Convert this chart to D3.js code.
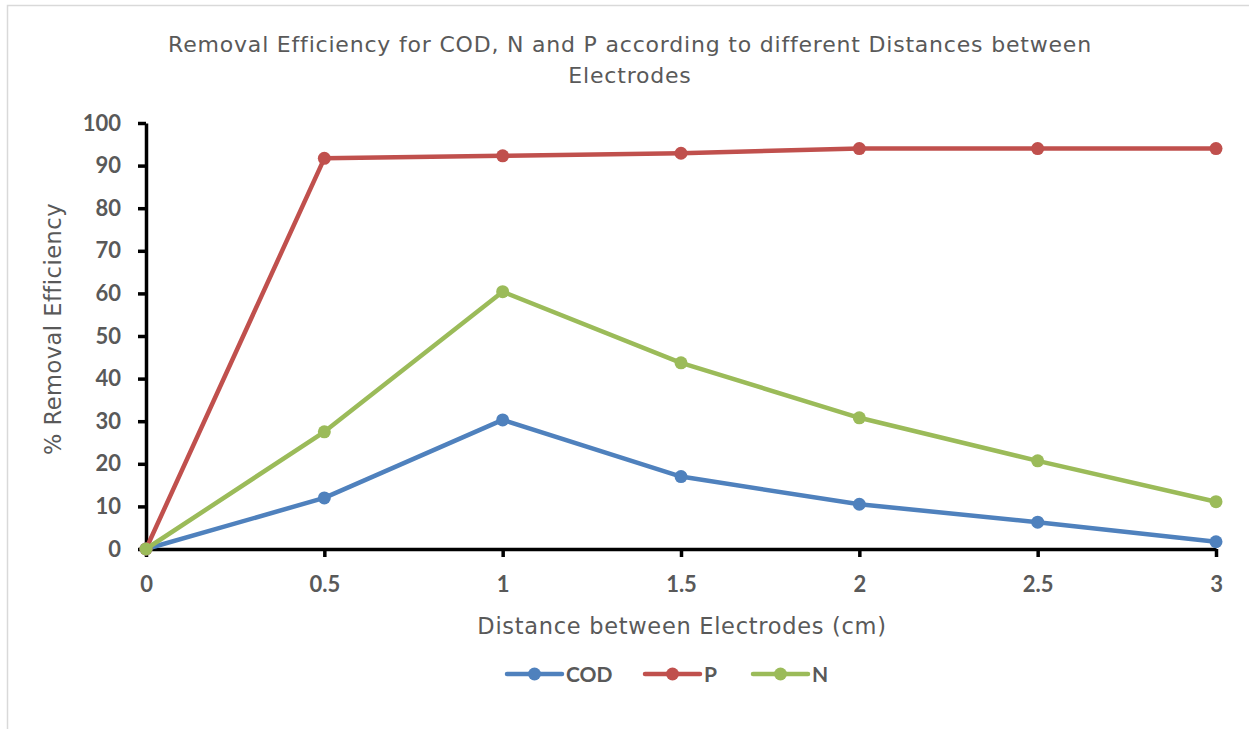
<!DOCTYPE html>
<html>
<head>
<meta charset="utf-8">
<script src="https://cdn.jsdelivr.net/npm/d3@7"></script>
<style>
  html, body { margin: 0; padding: 0; background: #fff; overflow: hidden; }
  svg { display: block; }
</style>
</head>
<body>
<svg id="chart" width="1249" height="729"></svg>
<script>
// Electrode spacing (cm) and removal efficiency (%) for each parameter
const distances = [0, 0.5, 1, 1.5, 2, 2.5, 3];
const codValues = [0, 12.0, 30.3, 17.0, 10.5, 6.3, 1.7];
const pValues   = [0, 91.7, 92.3, 92.9, 94.0, 94.0, 94.0];
const nValues   = [0, 27.5, 60.4, 43.7, 30.8, 20.7, 11.1];
const seriesNames = ["COD", "P", "N"];
const seriesColors = ["#4f81bd", "#c0504d", "#9bbb59"];
const yTicks = [0, 10, 20, 30, 40, 50, 60, 70, 80, 90, 100];
const xTicks = [0, 0.5, 1, 1.5, 2, 2.5, 3];

const series = [codValues, pValues, nValues].map((vals, i) => ({
  name: seriesNames[i],
  color: seriesColors[i],
  points: vals.map((v, j) => ({ x: distances[j], y: v }))
}));

const svg = d3.select("#chart");
const textColor = "#595959";
const titleFont = "'DejaVu Sans', sans-serif";
const tickFont = "Lato, 'Liberation Sans', sans-serif";

// chart frame (right and bottom edges run off the page)
svg.append("rect")
  .attr("x", 7.5).attr("y", 5.5)
  .attr("width", 1300).attr("height", 760)
  .attr("fill", "none").attr("stroke", "#d9d9d9").attr("stroke-width", 1.5);

const plot = { left: 146, right: 1216, top: 123, bottom: 549 };

const x = d3.scaleLinear().domain([0, 3]).range([plot.left, plot.right]);
const y = d3.scaleLinear().domain([0, 100]).range([plot.bottom, plot.top]);

// title
const title = svg.append("text")
  .attr("text-anchor", "middle")
  .attr("font-family", titleFont)
  .attr("font-size", 22)
  .attr("letter-spacing", 0.8)
  .attr("fill", textColor);
title.append("tspan").attr("x", 630).attr("y", 52)
  .text("Removal Efficiency for COD, N and P according to different Distances between");
title.append("tspan").attr("x", 630).attr("y", 83).text("Electrodes");

// y axis
const yAxis = svg.append("g")
  .attr("transform", `translate(${plot.left},0)`)
  .call(d3.axisLeft(y).tickValues(yTicks).tickSize(8).tickSizeOuter(0).tickPadding(17));
// x axis
const xAxis = svg.append("g")
  .attr("transform", `translate(0,${plot.bottom})`)
  .call(d3.axisBottom(x).tickValues(xTicks).tickSize(8).tickSizeOuter(0).tickPadding(19)
    .tickFormat(d3.format("")));

[yAxis, xAxis].forEach(g => {
  g.select(".domain").attr("stroke", "#000").attr("stroke-width", 3.5);
  g.selectAll(".tick line").attr("stroke", "#000").attr("stroke-width", 3.5);
  g.selectAll(".tick text")
    .attr("font-family", tickFont)
    .attr("font-weight", "bold")
    .attr("font-size", 22)
    .attr("fill", textColor);
});

// axis titles
svg.append("text")
  .attr("transform", `translate(61,${(plot.top + plot.bottom) / 2 - 7}) rotate(-90)`)
  .attr("text-anchor", "middle")
  .attr("font-family", titleFont)
  .attr("font-size", 22.5)
  .attr("letter-spacing", 0.5)
  .attr("fill", textColor)
  .text("% Removal Efficiency");

svg.append("text")
  .attr("x", 682).attr("y", 634)
  .attr("text-anchor", "middle")
  .attr("font-family", titleFont)
  .attr("font-size", 22.5)
  .attr("letter-spacing", 0.7)
  .attr("fill", textColor)
  .text("Distance between Electrodes (cm)");

// series lines and markers
const line = d3.line().x(d => x(d.x)).y(d => y(d.y));
series.forEach(s => {
  const g = svg.append("g");
  g.append("path")
    .datum(s.points)
    .attr("d", line)
    .attr("fill", "none")
    .attr("stroke", s.color)
    .attr("stroke-width", 4.5)
    .attr("stroke-linejoin", "round")
    .attr("stroke-linecap", "round");
  g.selectAll("circle")
    .data(s.points)
    .join("circle")
    .attr("cx", d => x(d.x))
    .attr("cy", d => y(d.y))
    .attr("r", 6.5)
    .attr("fill", s.color);
});

// legend
const legendX = [507, 645, 753];
const legend = svg.append("g");
series.forEach((s, i) => {
  const lg = legend.append("g").attr("transform", `translate(${legendX[i]},674)`);
  lg.append("line")
    .attr("x1", 0).attr("x2", 55).attr("y1", 0).attr("y2", 0)
    .attr("stroke", s.color).attr("stroke-width", 4.5).attr("stroke-linecap", "round");
  lg.append("circle").attr("cx", 27.5).attr("cy", 0).attr("r", 6.5).attr("fill", s.color);
  lg.append("text")
    .attr("x", 59).attr("y", 8)
    .attr("font-family", tickFont)
    .attr("font-weight", "bold")
    .attr("font-size", 21)
    .attr("fill", textColor)
    .text(s.name);
});
</script>
</body>
</html>
